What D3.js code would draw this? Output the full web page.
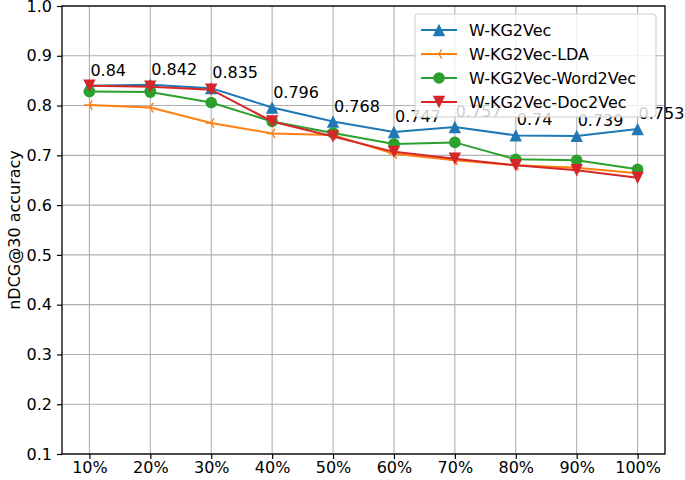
<!DOCTYPE html>
<html>
<head>
<meta charset="utf-8">
<script src="https://cdn.jsdelivr.net/npm/d3@7/dist/d3.min.js"></script>
<style>
  body { margin: 0; background: #fff; }
  text { font-family: "DejaVu Sans", sans-serif; }
</style>
</head>
<body>
<div id="chart"></div>
<script>
// data
var categories = ["10%", "20%", "30%", "40%", "50%", "60%", "70%", "80%", "90%", "100%"];
var kg2vec      = [0.840, 0.842, 0.835, 0.796, 0.768, 0.747, 0.757, 0.740, 0.739, 0.753];
var kg2vecLDA   = [0.801, 0.796, 0.765, 0.744, 0.741, 0.703, 0.690, 0.680, 0.675, 0.664];
var kg2vecWord  = [0.828, 0.827, 0.806, 0.768, 0.745, 0.723, 0.726, 0.692, 0.690, 0.672];
var kg2vecDoc   = [0.840, 0.838, 0.832, 0.768, 0.738, 0.707, 0.693, 0.680, 0.670, 0.655];
var yTicks = [0.1, 0.2, 0.3, 0.4, 0.5, 0.6, 0.7, 0.8, 0.9, 1.0];

var series = [
  {name: "W-KG2Vec", values: kg2vec, color: "#1f77b4", marker: "up"},
  {name: "W-KG2Vec-LDA", values: kg2vecLDA, color: "#ff7f0e", marker: "tri"},
  {name: "W-KG2Vec-Word2Vec", values: kg2vecWord, color: "#2ca02c", marker: "circle"},
  {name: "W-KG2Vec-Doc2Vec", values: kg2vecDoc, color: "#d62728", marker: "down"}
];

var W = 685, H = 480;
var margin = {top: 6, right: 20, bottom: 26, left: 62};

var svg = d3.select("#chart").append("svg")
  .attr("width", W).attr("height", H);

var x = d3.scalePoint()
  .domain(categories)
  .range([margin.left, W - margin.right])
  .padding(0.45);

var y = d3.scaleLinear()
  .domain([0.1, 1.0])
  .range([H - margin.bottom, margin.top]);

// grid
svg.append("g")
  .selectAll("line.vg")
  .data(categories).enter().append("line")
    .attr("x1", function(d) { return x(d); })
    .attr("x2", function(d) { return x(d); })
    .attr("y1", y(1.0)).attr("y2", y(0.1))
    .attr("stroke", "#b0b0b0").attr("stroke-width", 1.1);
svg.append("g")
  .selectAll("line.hg")
  .data(yTicks).enter().append("line")
    .attr("x1", margin.left).attr("x2", W - margin.right)
    .attr("y1", function(d) { return y(d); })
    .attr("y2", function(d) { return y(d); })
    .attr("stroke", "#b0b0b0").attr("stroke-width", 1.1);

// axes
var yAxis = svg.append("g")
  .attr("transform", "translate(" + margin.left + ",0)")
  .call(d3.axisLeft(y).tickValues(yTicks).tickFormat(d3.format(".1f")).tickSize(5).tickPadding(5));
var xAxis = svg.append("g")
  .attr("transform", "translate(0," + (H - margin.bottom) + ")")
  .call(d3.axisBottom(x).tickSize(5).tickPadding(3));
[xAxis, yAxis].forEach(function(a) {
  a.select(".domain").remove();
  a.selectAll(".tick line").attr("stroke", "#000").attr("stroke-width", 1.2);
  a.selectAll(".tick text").attr("fill", "#000").style("font-size", "16px")
    .style("font-family", "DejaVu Sans");
});

// frame
svg.append("rect")
  .attr("x", margin.left).attr("y", margin.top)
  .attr("width", W - margin.right - margin.left)
  .attr("height", H - margin.bottom - margin.top)
  .attr("fill", "none").attr("stroke", "#000").attr("stroke-width", 1.3);

// y label
svg.append("text")
  .attr("transform", "translate(14," + ((margin.top + H - margin.bottom) / 2) + ") rotate(-90)")
  .attr("text-anchor", "middle")
  .attr("dominant-baseline", "central")
  .style("font-size", "16px")
  .text("nDCG@30 accuracy");

function drawMarker(g, type, color, cx, cy) {
  if (type === "circle") {
    g.append("circle").attr("cx", cx).attr("cy", cy).attr("r", 5.8).attr("fill", color);
  } else if (type === "up") {
    var s = 6.2;
    g.append("path")
      .attr("d", "M" + cx + "," + (cy - s) + "L" + (cx + s) + "," + (cy + s) + "L" + (cx - s) + "," + (cy + s) + "Z")
      .attr("fill", color);
  } else if (type === "down") {
    var s2 = 6.2;
    g.append("path")
      .attr("d", "M" + cx + "," + (cy + s2) + "L" + (cx + s2) + "," + (cy - s2) + "L" + (cx - s2) + "," + (cy - s2) + "Z")
      .attr("fill", color);
  } else if (type === "tri") {
    var r = 5.5;
    g.append("path")
      .attr("d", "M" + cx + "," + cy + "L" + (cx - r) + "," + cy +
                 "M" + cx + "," + cy + "L" + (cx + r * 0.5) + "," + (cy - r * 0.866) +
                 "M" + cx + "," + cy + "L" + (cx + r * 0.5) + "," + (cy + r * 0.866))
      .attr("stroke", color).attr("stroke-width", 1.4).attr("fill", "none");
  }
}

var line = d3.line()
  .x(function(d, i) { return x(categories[i]); })
  .y(function(d) { return y(d); });

series.forEach(function(s) {
  var g = svg.append("g");
  g.append("path")
    .datum(s.values)
    .attr("d", line)
    .attr("fill", "none")
    .attr("stroke", s.color)
    .attr("stroke-width", 2);
  s.values.forEach(function(v, i) {
    drawMarker(g, s.marker, s.color, x(categories[i]), y(v));
  });
});

// value labels for W-KG2Vec
svg.append("g")
  .selectAll("text")
  .data(kg2vec).enter().append("text")
    .attr("x", function(d, i) { return x(categories[i]) + 1; })
    .attr("y", function(d) { return y(d + 0.02); })
    .style("font-size", "16px")
    .attr("fill", "#000")
    .text(function(d) { return +d.toFixed(3); });

// legend
var lg = svg.append("g");
lg.append("rect")
  .attr("x", 415).attr("y", 14).attr("width", 241).attr("height", 103)
  .attr("rx", 3)
  .attr("fill", "#fff").attr("fill-opacity", 0.8)
  .attr("stroke", "#cccccc").attr("stroke-width", 1);
series.forEach(function(s, i) {
  var cy = 30 + i * 24;
  lg.append("line")
    .attr("x1", 421).attr("x2", 457).attr("y1", cy).attr("y2", cy)
    .attr("stroke", s.color).attr("stroke-width", 2);
  drawMarker(lg, s.marker, s.color, 439, cy);
  lg.append("text")
    .attr("x", 469).attr("y", cy)
    .attr("dominant-baseline", "central")
    .style("font-size", "16px")
    .text(s.name);
});
</script>
</body>
</html>
